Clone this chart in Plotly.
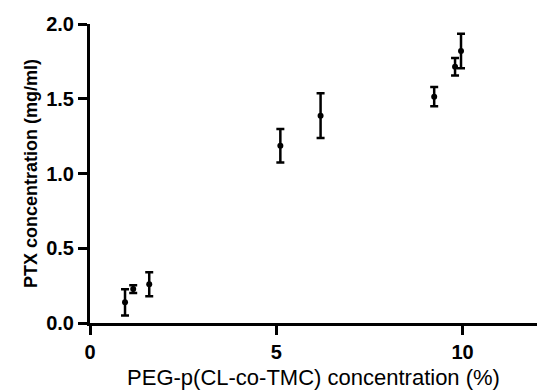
import plotly.graph_objects as go

peg_conc = [0.94, 1.16, 1.59, 5.11, 6.19, 9.24, 9.80, 9.96]
ptx_conc = [0.138, 0.227, 0.259, 1.186, 1.387, 1.514, 1.714, 1.819]
ptx_err = [0.088, 0.026, 0.080, 0.112, 0.150, 0.065, 0.058, 0.115]

x_ticks = [0, 5, 10]
y_ticks = [0.0, 0.5, 1.0, 1.5, 2.0]
y_tick_labels = ["0.0", "0.5", "1.0", "1.5", "2.0"]

fig = go.Figure(
    go.Scatter(
        x=peg_conc,
        y=ptx_conc,
        mode="markers",
        marker=dict(color="black", size=6, symbol="circle"),
        error_y=dict(type="data", array=ptx_err, visible=True,
                     color="black", thickness=2.5, width=4),
        showlegend=False,
        cliponaxis=False,
    )
)

tick_font = dict(family="Liberation Sans, Arial, sans-serif", size=20, color="black", weight="bold")

fig.update_layout(
    width=537, height=390,
    margin=dict(l=90, r=0, t=24, b=67),
    paper_bgcolor="white", plot_bgcolor="white",
    xaxis=dict(
        range=[0, 12], tickvals=x_ticks, ticktext=[str(v) for v in x_ticks],
        showgrid=False, zeroline=False, showline=True, linecolor="black", linewidth=3,
        ticks="outside", ticklen=9, tickwidth=3, tickcolor="black",
        tickfont=tick_font, automargin=False,
        title=dict(text="PEG-p(CL-co-TMC) concentration (%)",
                   font=dict(family="Liberation Sans, Arial, sans-serif", size=22, color="black"),
                   standoff=9),
    ),
    yaxis=dict(
        range=[0, 2.0], tickvals=y_ticks, ticktext=y_tick_labels,
        showgrid=False, zeroline=False, showline=True, linecolor="black", linewidth=3,
        ticks="outside", ticklen=9, tickwidth=3, tickcolor="black",
        tickfont=tick_font, automargin=False,
        title=dict(text="PTX concentration (mg/ml)",
                   font=dict(family="Liberation Sans, Arial, sans-serif", size=18, color="black", weight="bold"),
                   standoff=4),
    ),
)

fig.write_html(
    "out.html",
    config={"displayModeBar": False},
    post_script="document.body.style.margin='0';document.body.style.overflow='hidden';",
)
